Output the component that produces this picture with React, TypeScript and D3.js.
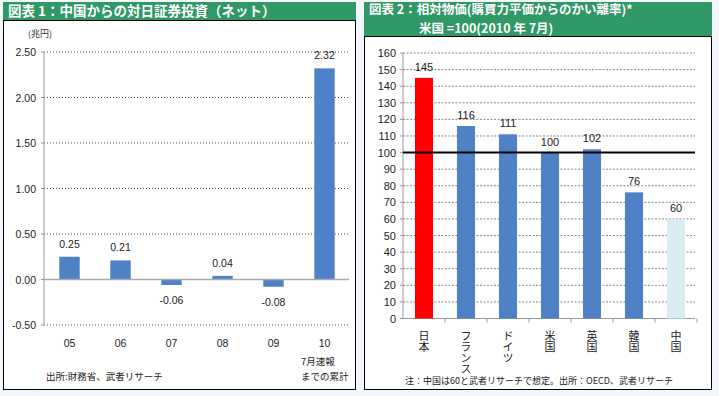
import React from "react";
import * as d3 from "d3";

// chart 1: China's net portfolio investment into Japan (trillion yen)
const years = ["05", "06", "07", "08", "09", "10"];
const investment = [0.25, 0.21, -0.06, 0.04, -0.08, 2.32];
const investTicks = [-0.5, 0, 0.5, 1.0, 1.5, 2.0, 2.5];

// chart 2: relative price level, US = 100
const countries = ["日本", "フランス", "ドイツ", "米国", "英国", "韓国", "中国"];
const priceLevel = [145, 116, 111, 100, 102, 76, 60];
const priceTicks = d3.range(0, 161, 10);

const GREEN = "#2f9866";
const BLUE = "#4f81c7";
const FONT = "'Liberation Sans', Arial, sans-serif";
const JP = "'Noto Sans CJK JP', sans-serif";

const LeftChart = () => {
  const x = d3.scaleBand<string>().domain(years).range([44, 350]).paddingInner(0.6).paddingOuter(0.3);
  const y = d3.scaleLinear().domain([-0.5, 2.5]).range([325, 52]);
  return (
    <g>
      <rect x={3} y={2} width={353} height={18} fill={GREEN} />
      <text x={8} y={16} fill="#fff" fontFamily={JP} fontWeight="bold" fontSize={13.5}>
        図表 1：中国からの対日証券投資（ネット）
      </text>
      <rect x={3.5} y={20.5} width={352} height={369} fill="#fff" stroke="#000" />
      <text x={28} y={37} fontFamily={JP} fontSize={9} fill="#333">(兆円)</text>
      {investTicks.map((t) => (
        <g key={t}>
          {t !== 0 && (
            <line x1={44} x2={349} y1={y(t)} y2={y(t)} stroke="#555" strokeDasharray="1,2" />
          )}
          <text x={36} y={y(t) + 4} textAnchor="end" fontFamily={FONT} fontSize={10.5} fill="#222">
            {t.toFixed(2)}
          </text>
          <line x1={41} x2={44} y1={y(t)} y2={y(t)} stroke="#999" />
        </g>
      ))}
      <line x1={44} x2={44} y1={y(2.5)} y2={y(-0.5)} stroke="#999" />
      {investment.map((v, i) => (
        <g key={years[i]}>
          <rect x={x(years[i])} y={y(Math.max(0, v))} width={x.bandwidth()} height={Math.abs(y(v) - y(0))} fill={BLUE} />
          <text
            x={x(years[i])! + x.bandwidth() / 2}
            y={v >= 0 ? y(v) - 9 : y(v) + 19}
            textAnchor="middle"
            fontFamily={FONT}
            fontSize={10.5}
            fill="#222"
          >
            {v.toFixed(2)}
          </text>
          <text x={x(years[i])! + x.bandwidth() / 2} y={347} textAnchor="middle" fontFamily={FONT} fontSize={10.5} fill="#222">
            {years[i]}
          </text>
        </g>
      ))}
      <line x1={44} x2={349} y1={y(0)} y2={y(0)} stroke="#aaa" strokeWidth={1.5} />
      <text x={301} y={365} fontFamily={JP} fontSize={9.5} fill="#222">7月速報</text>
      <text x={301} y={380} fontFamily={JP} fontSize={9.5} fill="#222">までの累計</text>
      <text x={46} y={380} fontFamily={JP} fontSize={9.5} fill="#222">出所:財務省、武者リサーチ</text>
    </g>
  );
};

const RightChart = () => {
  const x = d3.scaleBand<string>().domain(countries).range([403, 697]).paddingInner(0.57).paddingOuter(0.285);
  const y = d3.scaleLinear().domain([0, 160]).range([318.5, 53]);
  const step = x.step();
  return (
    <g>
      <rect x={364} y={2} width={348} height={34} fill={GREEN} />
      <text x={369} y={14} fill="#fff" fontFamily={JP} fontWeight="bold" fontSize={12.5}>
        図表 2：相対物価(購買力平価からのかい離率)*
      </text>
      <text x={419} y={33} fill="#fff" fontFamily={JP} fontWeight="bold" fontSize={12.5}>
        米国 =100(2010 年 7月)
      </text>
      <rect x={364.5} y={36.5} width={347} height={353} fill="#fff" stroke="#000" />
      {priceTicks.map((t) => (
        <g key={t}>
          {t !== 0 && (
            <line x1={403} x2={695} y1={y(t)} y2={y(t)} stroke="#888" strokeDasharray="2,1.5" />
          )}
          <line x1={400} x2={403} y1={y(t)} y2={y(t)} stroke="#999" />
          <text x={396} y={y(t) + 4} textAnchor="end" fontFamily={FONT} fontSize={11} fill="#222">
            {t}
          </text>
        </g>
      ))}
      <line x1={403} x2={403} y1={y(160)} y2={y(0)} stroke="#999" />
      <line x1={403} x2={695} y1={y(0)} y2={y(0)} stroke="#999" />
      {countries.map((c, i) => (
        <line key={c} x1={403 + step * (i + 1)} x2={403 + step * (i + 1)} y1={y(0)} y2={y(0) + 4} stroke="#999" />
      ))}
      {priceLevel.map((v, i) => (
        <g key={countries[i]}>
          <rect
            x={x(countries[i])}
            y={y(v)}
            width={x.bandwidth()}
            height={y(0) - y(v)}
            fill={i === 0 ? "#ff0000" : i === 6 ? "#daedf3" : BLUE}
          />
          <text x={x(countries[i])! + x.bandwidth() / 2} y={y(v) - 7} textAnchor="middle" fontFamily={FONT} fontSize={11} fill="#222">
            {v}
          </text>
          <text
            x={x(countries[i])! + x.bandwidth() / 2}
            y={330}
            fontFamily={JP}
            fontSize={11}
            fill="#222"
            style={{ writingMode: "vertical-rl" }}
          >
            {countries[i]}
          </text>
        </g>
      ))}
      <line x1={403} x2={695} y1={y(100)} y2={y(100)} stroke="#000" strokeWidth={2} />
      <text x={405} y={384} fontFamily={JP} fontSize={9} fill="#222">
        注：中国は60と武者リサーチで想定。出所：OECD、武者リサーチ
      </text>
    </g>
  );
};

export default function App() {
  return (
    <svg width={719} height={396} style={{ position: "absolute", left: 0, top: 0 }}>
      <rect width={719} height={396} fill="#f3f6fb" />
      <LeftChart />
      <RightChart />
    </svg>
  );
}
